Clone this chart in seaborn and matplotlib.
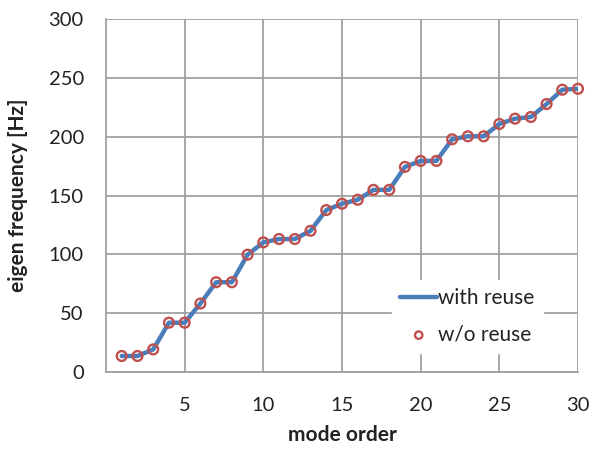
import matplotlib
matplotlib.use("Agg")
import matplotlib.pyplot as plt
import seaborn as sns
import pandas as pd

mode_order = list(range(1, 31))
freq_with_reuse = [13.6, 13.6, 19.2, 41.9, 41.9, 58.2, 76.3, 76.3, 99.7, 110.2,
                   113.0, 113.0, 120.0, 137.6, 143.0, 146.4, 154.8, 154.8, 174.3, 179.4,
                   179.4, 197.8, 200.3, 200.3, 210.8, 215.3, 216.7, 227.7, 239.9, 240.7]
freq_wo_reuse = list(freq_with_reuse)
x_ticks = [5, 10, 15, 20, 25, 30]
y_ticks = [0, 50, 100, 150, 200, 250, 300]

df = pd.DataFrame({"mode": mode_order, "with": freq_with_reuse, "wo": freq_wo_reuse})

sns.set_style("white")
plt.rcParams['font.family'] = ['Lato', 'DejaVu Sans']

fig = plt.figure(figsize=(5.9, 4.49), dpi=100)
ax = fig.add_axes([106/590, 1 - 372/449, (578-106)/590, (372-19)/449])

grid_c = "#a0a0a0"
sns.lineplot(data=df, x="mode", y="with", ax=ax, color="#4a7ebb", linewidth=3.2,
             label="with reuse", zorder=3)
sns.scatterplot(data=df, x="mode", y="wo", ax=ax, marker="o", s=50,
                facecolor="none", edgecolor="#c0504d", linewidth=1.7,
                label="w/o reuse", zorder=4, clip_on=False)

ax.set_xlim(0, 30)
ax.set_ylim(0, 300)
ax.set_xticks(x_ticks)
ax.set_yticks(y_ticks)
ax.grid(True, color=grid_c, linewidth=1.3)
ax.set_axisbelow(True)
for s in ["top", "right"]:
    ax.spines[s].set_visible(False)
for s in ["left", "bottom"]:
    ax.spines[s].set_color(grid_c)
    ax.spines[s].set_linewidth(1.3)
ax.tick_params(axis="both", direction="out", length=6, width=1.3, color=grid_c,
               labelsize=14.5, labelcolor="#222222")
ax.tick_params(axis="x", pad=12)
ax.tick_params(axis="y", pad=10)
ax.set_xlabel("mode order", fontsize=15, fontweight="bold", labelpad=8, color="#222222")
ax.set_ylabel("eigen frequency [Hz]", fontsize=15, fontweight="bold", labelpad=15, color="#222222")

leg = ax.legend(loc="lower right", bbox_to_anchor=(0.926, 0.054), borderaxespad=0,
                frameon=True, fontsize=15, handlelength=1.8, handletextpad=0.05,
                borderpad=0.4, labelspacing=0.8, fancybox=False, markerscale=0.75,
                labelcolor="#222222")
leg.get_frame().set_edgecolor("white")
leg.get_frame().set_facecolor("white")
leg.get_frame().set_alpha(1)

fig.savefig("out.png", dpi=100)
